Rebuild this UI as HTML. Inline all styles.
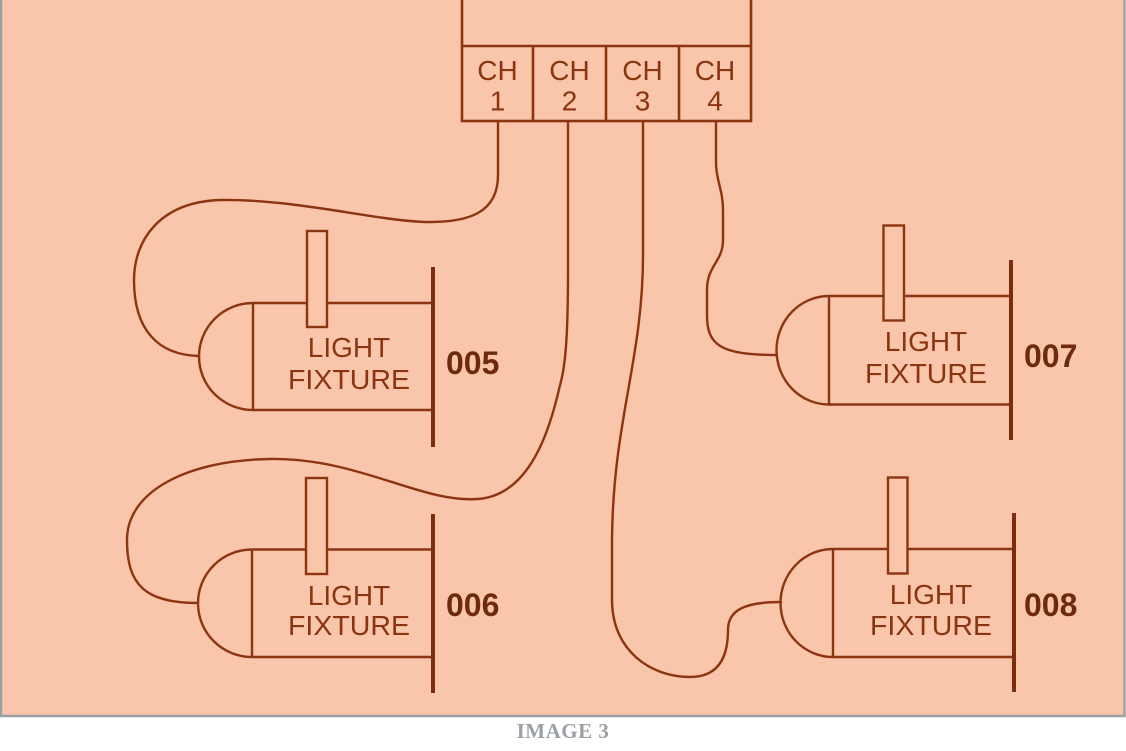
<!DOCTYPE html>
<html><head><meta charset="utf-8"><style>
html,body{margin:0;padding:0;background:#fff;}
body{width:1126px;height:751px;overflow:hidden;position:relative;}
svg{position:absolute;left:0;top:0;}
</style></head><body>
<svg width="1126" height="751" viewBox="0 0 1126 751" xmlns="http://www.w3.org/2000/svg">
<rect x="0" y="0" width="1126" height="751" fill="#ffffff"/>
<rect x="1" y="-5" width="1123.5" height="721" fill="#F9C5AB" stroke="#9ca1a5" stroke-width="2.5"/>

<g fill="none" stroke="#8c3510" stroke-width="2.6" stroke-linejoin="miter">
  <rect x="462" y="-10" width="289" height="131"/>
  <line x1="462" y1="46" x2="751" y2="46"/>
  <line x1="533" y1="46" x2="533" y2="121"/>
  <line x1="606" y1="46" x2="606" y2="121"/>
  <line x1="679" y1="46" x2="679" y2="121"/>
</g>

<g fill="none" stroke="#8c3510" stroke-width="2.4" stroke-linecap="round">
  <path d="M498,121 V175 C498,212 470,222 430,222 C380,222 300,199 220,200 C160,202 134,240 134,280 C134,330 158,355 199,356"/>
  <path d="M568,121 V270 C568,330 566,365 560,385 C550,430 530,495 478,499 C420,503 360,458 270,459 C190,460 127,490 127,540 C127,585 145,603 198,603"/>
  <path d="M643,121 V255 C643,360 613,420 612,540 V600 C612,650 650,677 690,677 C720,677 728,655 728,630 C728,610 745,602 781,602"/>
  <path d="M716,121 V163 C716,180 723,190 723,210 V240 C723,262 707,265 707,290 V315 C707,345 720,355 777,355"/>
</g>

<g font-family="Liberation Sans, Arial, sans-serif" font-size="28" fill="#8a3510" text-anchor="middle">
  <text x="497.5" y="80">CH</text><text x="497.5" y="110.7">1</text>
  <text x="569.5" y="80">CH</text><text x="569.5" y="110.7">2</text>
  <text x="642.5" y="80">CH</text><text x="642.5" y="110.7">3</text>
  <text x="715" y="80">CH</text><text x="715" y="110.7">4</text>
</g>

<g fill="none" stroke="#8c3510" stroke-width="2.4">
  <path d="M253,303 H433 M253,410 H433 M253,303 V410"/>
  <path d="M253,303 A54,53.5 0 0 0 253,410"/>
  <rect x="307" y="231" width="20" height="96" fill="#F9C5AB"/>
</g>
<line x1="433" y1="267" x2="433" y2="447" stroke="#7a2e0d" stroke-width="4"/>

<g fill="none" stroke="#8c3510" stroke-width="2.4">
  <path d="M252,549.5 H433 M252,657 H433 M252,549.5 V657"/>
  <path d="M252,549.5 A54,53.75 0 0 0 252,657"/>
  <rect x="306" y="478" width="21" height="96" fill="#F9C5AB"/>
</g>
<line x1="433" y1="514" x2="433" y2="693" stroke="#7a2e0d" stroke-width="4"/>

<g fill="none" stroke="#8c3510" stroke-width="2.4">
  <path d="M829,296 H1011 M829,404.5 H1011 M829,296 V404.5"/>
  <path d="M829,296 A52.5,54.25 0 0 0 829,404.5"/>
  <rect x="883.5" y="225.5" width="20.5" height="95" fill="#F9C5AB"/>
</g>
<line x1="1011" y1="260" x2="1011" y2="440" stroke="#7a2e0d" stroke-width="4"/>

<g fill="none" stroke="#8c3510" stroke-width="2.4">
  <path d="M833,549 H1014 M833,657 H1014 M833,549 V657"/>
  <path d="M833,549 A52.5,54 0 0 0 833,657"/>
  <rect x="888" y="477.5" width="19.5" height="96" fill="#F9C5AB"/>
</g>
<line x1="1014" y1="513" x2="1014" y2="692" stroke="#7a2e0d" stroke-width="4"/>

<g font-family="Liberation Sans, Arial, sans-serif" font-size="28" fill="#8a3510" text-anchor="middle">
  <text x="349" y="357">LIGHT</text><text x="349" y="389" textLength="122" lengthAdjust="spacingAndGlyphs">FIXTURE</text>
  <text x="349" y="605">LIGHT</text><text x="349" y="635" textLength="122" lengthAdjust="spacingAndGlyphs">FIXTURE</text>
  <text x="926" y="351">LIGHT</text><text x="926" y="383" textLength="122" lengthAdjust="spacingAndGlyphs">FIXTURE</text>
  <text x="931" y="604">LIGHT</text><text x="931" y="635" textLength="122" lengthAdjust="spacingAndGlyphs">FIXTURE</text>
</g>

<g font-family="Liberation Sans, Arial, sans-serif" font-size="32" font-weight="bold" fill="#6e2a0c">
  <text x="446" y="374">005</text>
  <text x="446" y="616">006</text>
  <text x="1024" y="367">007</text>
  <text x="1024" y="616">008</text>
</g>

<text x="563" y="738" text-anchor="middle" font-family="Liberation Serif, serif" font-weight="bold" font-size="21" fill="#9aa0a5" letter-spacing="0.5">IMAGE 3</text>
</svg>
</body></html>
